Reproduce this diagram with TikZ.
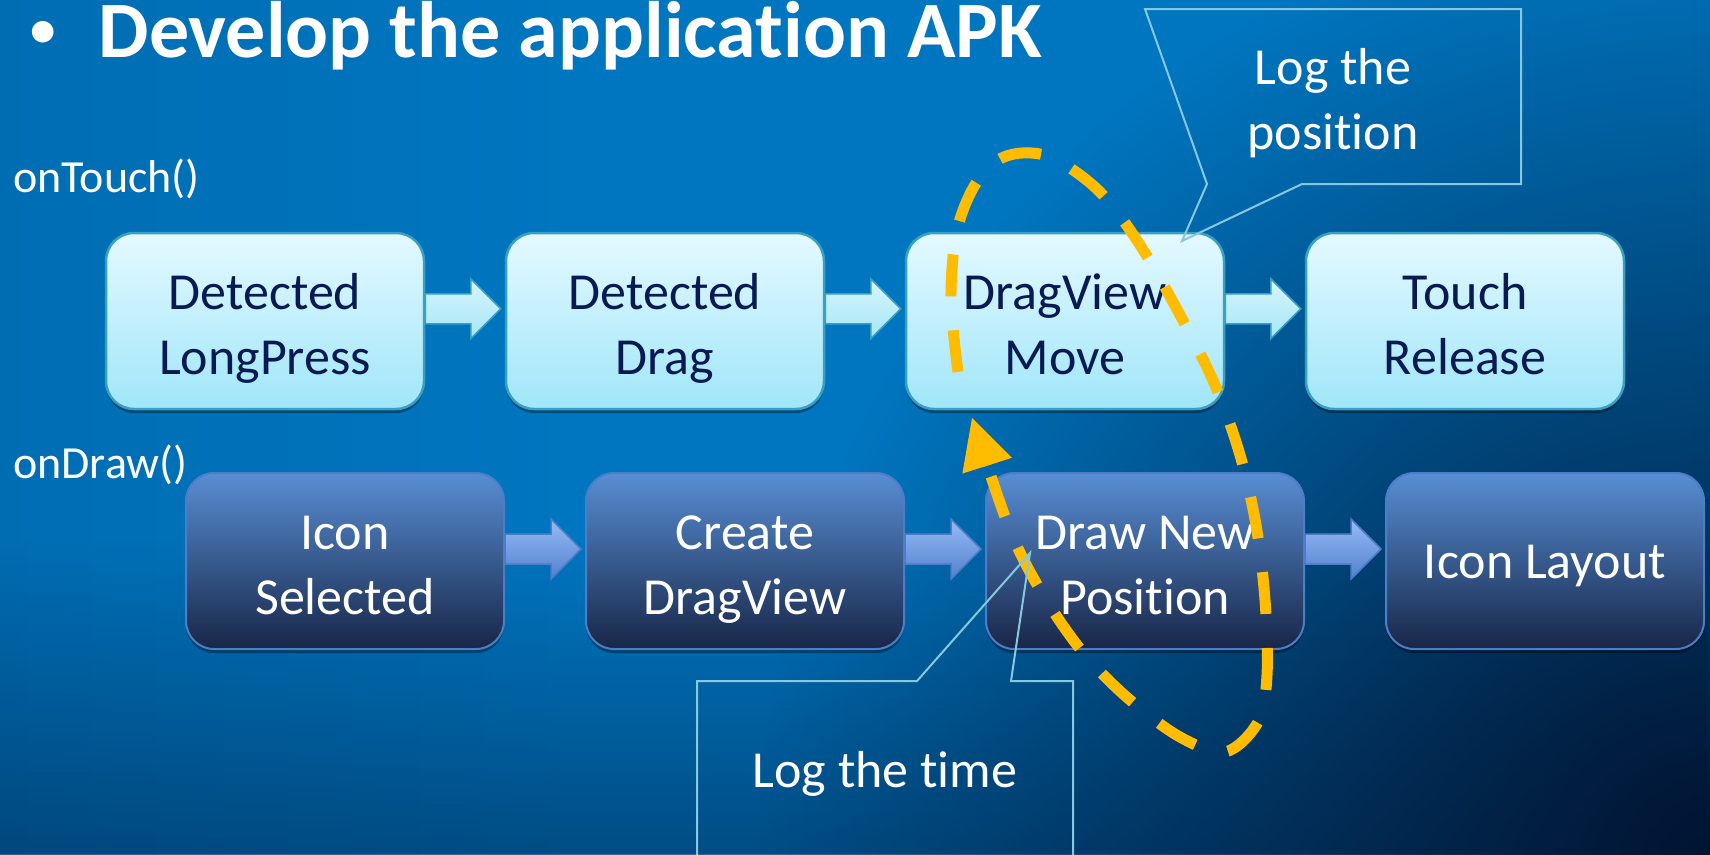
\documentclass[tikz,border=0pt]{standalone}
\usepackage{fontspec}
\setmainfont{Carlito}[Ligatures=NoCommon]
\usetikzlibrary{arrows.meta,calc,shadows,fadings}

% palette
\definecolor{bgleft}{RGB}{0,96,160}
\definecolor{bgcore}{RGB}{0,118,192}
\definecolor{bgright}{RGB}{0,88,148}
\definecolor{bgcorner}{RGB}{2,20,50}
\definecolor{touchtop}{RGB}{228,249,255}
\definecolor{touchbot}{RGB}{160,230,250}
\definecolor{touchline}{RGB}{55,160,195}
\definecolor{touchatop}{RGB}{215,245,252}
\definecolor{touchabot}{RGB}{165,230,246}
\definecolor{drawtop}{RGB}{88,142,212}
\definecolor{drawmid}{RGB}{58,98,160}
\definecolor{drawbot}{RGB}{24,38,72}
\definecolor{drawline}{RGB}{78,125,200}
\definecolor{drawatop}{RGB}{150,188,246}
\definecolor{drawabot}{RGB}{82,128,205}
\definecolor{navytext}{RGB}{8,26,82}
\definecolor{calloutline}{RGB}{135,200,222}
\definecolor{loopgold}{RGB}{255,188,0}

\pgfdeclarehorizontalshading{bgsweep}{100bp}{%
  color(0bp)=(bgleft); color(42bp)=(bgcore); color(74bp)=(bgcore); color(100bp)=(bgright)}
\tikzfading[name=cornerfade, inner color=transparent!0, outer color=transparent!100]
\tikzfading[name=lowerdark, top color=transparent!100, bottom color=transparent!0]

\newcommand\boxfont{\fontsize{52}{65}\selectfont}
\newcommand\labelfont{\fontsize{46}{56}\selectfont}
\newcommand\titlefont{\fontsize{80}{90}\selectfont\bfseries}

% block arrow from one box to the next: #1 style, #2 source node, #3 target node
\newcommand\flowarrow[3]{%
  \path[#1] let \p1=(#2.east), \p2=(#3.west), \p3=(#2.north) in
    (\x1,\y3-62pt) -- (\x2-34pt,\y3-62pt) -- (\x2-34pt,\y3-47pt) --
    (\x2-4pt,\y3-77pt) -- (\x2-34pt,\y3-107pt) -- (\x2-34pt,\y3-92pt) --
    (\x1,\y3-92pt) -- cycle;}

\begin{document}
\begin{tikzpicture}[x=1pt,y=-1pt,
  boxbase/.style={rounded corners=28pt, minimum width=318pt, minimum height=176pt,
    inner sep=0pt, align=center, font=\boxfont, text height=106pt, text depth=0pt,
    drop shadow={shadow xshift=0pt, shadow yshift=-4pt, opacity=.35, fill=black}},
  touchbox/.style={boxbase, draw=touchline, line width=2.5pt,
    top color=touchtop, bottom color=touchbot, text=navytext},
  drawbox/.style={boxbase, draw=drawline, line width=2pt,
    top color=drawtop, middle color=drawmid, bottom color=drawbot, text=white},
  oneline/.style={text height=34pt, text depth=0pt},
  toucharrow/.style={draw=touchline, line width=1.5pt, top color=touchatop, bottom color=touchabot},
  drawarrow/.style={draw=drawline, line width=1.5pt, top color=drawatop, bottom color=drawabot},
  callout/.style={minimum width=376pt, inner sep=0pt, outer sep=0pt, align=center,
    font=\boxfont, text=white, text height=106pt, text depth=0pt},
  calloutedge/.style={draw=calloutline, line width=2pt},
  phase/.style={font=\labelfont, text=white, anchor=base west, inner sep=0pt},
  loopline/.style={draw=loopgold, line width=11pt, dash pattern=on 42pt off 34pt,
    -{Triangle[length=50pt, width=52pt, line width=0pt]}}
]
\useasboundingbox (0,0) rectangle (1710,854);

% background
\begin{scope}
  \clip (0,0) rectangle (1710,854);
  \shade[shading=bgsweep] (0,0) rectangle (1710,854);
  \fill[bgcorner, opacity=.42, path fading=lowerdark, fit fading=true] (0,540) rectangle (1710,854);
  \fill[bgcorner, path fading=cornerfade, fit fading=true] (1710,854) circle[radius=950pt];
\end{scope}

% heading
\node[anchor=base west, font=\titlefont, text=white, inner sep=0pt] (title) at (30,57)
  {\raisebox{11pt}{\fontsize{51}{60}\selectfont •}\hspace{43pt}Develop the application APK};

% phase labels
\node[phase] (ontouch) at (13,192) {onTouch()};
\node[phase] (ondraw) at (13,478) {onDraw()};

% touch handling row
\node[touchbox] (longpress) at (265,321) {Detected\\LongPress};
\node[touchbox] (drag) at (665,321) {Detected\\Drag};
\node[touchbox] (move) at (1065,321) {DragView\\Move};
\node[touchbox] (release) at (1465,321) {Touch\\Release};

% drawing row
\node[drawbox] (selected) at (345,561) {Icon\\Selected};
\node[drawbox] (create) at (745,561) {Create\\DragView};
\node[drawbox] (newpos) at (1145,561) {Draw New\\Position};
\node[drawbox, oneline] (layout) at (1545,561) {Icon Layout};

% block arrows
\flowarrow{toucharrow}{longpress}{drag}
\flowarrow{toucharrow}{drag}{move}
\flowarrow{toucharrow}{move}{release}
\flowarrow{drawarrow}{selected}{create}
\flowarrow{drawarrow}{create}{newpos}
\flowarrow{drawarrow}{newpos}{layout}

% move / redraw loop
\draw[loopline] plot[smooth, tension=0.55] coordinates {
  (958,372) (951,300) (956,235) (972,190) (995,162) (1022,153) (1055,159)
  (1100,192) (1140,245) (1180,315) (1215,385) (1240,455) (1256,525)
  (1265,600) (1267,675) (1258,722) (1225,752) (1180,737) (1130,700)
  (1085,655) (1045,598) (1010,530) (972,418)};

% callouts
\begin{scope}
  \clip (0,0) rectangle (1710,854);
  \node[callout, minimum height=175pt] (logpos) at (1333,96.5) {Log the\\position};
  \coordinate (postip) at (1182,241);
  \draw[calloutedge] (logpos.north west) -- (logpos.north east) -- (logpos.south east)
    -- ($(logpos.south west)+(157,0)$) -- (postip) -- ($(logpos.south west)+(62,0)$) -- cycle;

  \node[callout, oneline, minimum height=178pt] (logtime) at (885,770) {Log the time};
  \coordinate (timetip) at (1030,553);
  \draw[calloutedge] (logtime.south west) -- (logtime.north west)
    -- ($(logtime.north west)+(220,0)$) -- (timetip) -- ($(logtime.north west)+(314,0)$)
    -- (logtime.north east) -- (logtime.south east) -- cycle;
\end{scope}
\end{tikzpicture}
\end{document}
